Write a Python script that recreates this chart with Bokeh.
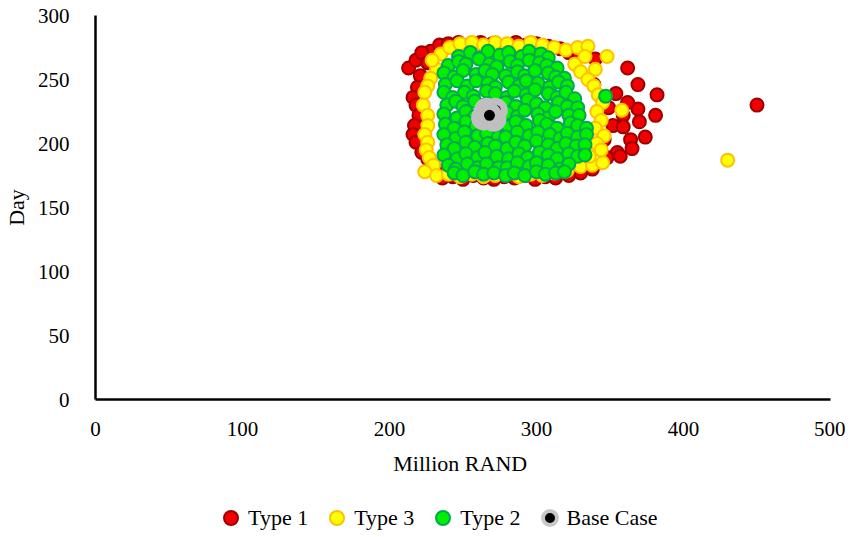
from bokeh.plotting import figure
from bokeh.layouts import column
from bokeh.models import Range1d, FixedTicker, Legend, LegendItem
from bokeh.embed import file_html
from bokeh.resources import INLINE

# ---------------- data ----------------
x_ticks = [0, 100, 200, 300, 400, 500]
y_ticks = [0, 50, 100, 150, 200, 250, 300]

type1_x = [228, 234, 240, 247, 254, 262, 270, 278, 286, 293, 300, 308, 316, 322,
           213, 218, 222, 226, 221, 219, 216, 218, 220, 217, 216, 218, 222, 226, 230, 233, 236,
           243, 250, 257, 264, 271, 278, 285, 292, 299, 306, 313,
           329, 340, 362, 369, 382, 354, 339, 349, 359, 369, 381, 362, 370, 352, 359, 374, 364,
           346, 365, 355, 357, 348, 338, 330, 322,
           450]
type1_y = [272, 277, 278, 279, 277, 279, 278, 276, 279, 277, 278, 276, 274, 271,
           259, 265, 271, 263, 253, 244, 236, 230, 222, 214, 207, 201, 193, 188, 183, 177, 173,
           174, 172, 175, 173, 172, 174, 173, 175, 172, 174, 173,
           268, 266, 259, 246, 238, 239, 246, 228, 222, 227, 222, 232, 217, 214, 213, 205, 203,
           203, 196, 193, 190, 189, 180, 177, 175,
           230]

type3_x = [235, 241, 248, 256, 264, 272, 280, 288, 296, 304, 312, 320, 328, 335, 348,
           232, 229, 228, 226, 224, 223, 226, 226, 224, 226, 225, 227, 230, 224,
           232, 240, 248, 256, 264, 272, 280, 288, 296, 304, 312, 321, 330, 338, 345,
           326, 333, 340, 330, 335, 339, 342, 345, 341, 344, 340, 346, 341, 344, 336, 358,
           430]
type3_y = [270, 275, 278, 279, 277, 279, 278, 276, 279, 277, 275, 273, 275, 276, 268,
           258, 265, 251, 245, 240, 230, 222, 214, 207, 201, 195, 189, 183, 178,
           175, 176, 174, 176, 174, 175, 176, 174, 176, 175, 177, 179, 182, 183, 185,
           262, 268, 258, 256, 250, 245, 238, 232, 225, 218, 212, 206, 200, 195, 190, 226,
           187]

type2_x = [247, 255, 261, 267, 275, 281, 290, 295, 303, 308,
           240, 247, 252, 261, 268, 273, 282, 287, 295, 302, 307, 314,
           237, 244, 250, 259, 265, 270, 279, 287, 292, 299, 308, 313, 319,
           238, 246, 253, 259, 267, 272, 281, 288, 293, 301, 309, 315, 321,
           237, 243, 251, 257, 266, 272, 280, 285, 293, 299, 308, 314, 320, 326,
           239, 245, 250, 258, 265, 274, 279, 286, 294, 300, 306, 315, 321, 328,
           237, 246, 252, 258, 280, 287, 292, 301, 308, 313, 322, 329,
           238, 244, 252, 259, 264, 272, 281, 286, 293, 302, 307, 314, 323, 328, 334,
           237, 245, 251, 260, 266, 274, 279, 287, 295, 301, 309, 316, 321, 328, 334,
           239, 244, 252, 258, 267, 272, 280, 286, 292, 300, 308, 314, 320, 327, 333,
           237, 246, 252, 260, 265, 273, 281, 288, 294, 302, 308, 314, 322, 328, 333,
           240, 245, 253, 260, 266, 274, 280, 287, 295, 300, 308, 316, 322,
           244, 250, 258, 264, 271, 279, 285, 292, 300, 306, 313, 319,
           347]
type2_y = [268, 271, 267, 272, 269, 271, 268, 272, 270, 267,
           261, 264, 262, 266, 262, 260, 264, 261, 265, 263, 261, 259,
           255, 252, 257, 254, 257, 254, 253, 256, 253, 257, 255, 252, 251,
           246, 249, 245, 249, 247, 244, 248, 245, 249, 247, 244, 248, 245,
           240, 236, 240, 237, 241, 239, 236, 241, 238, 242, 239, 236, 240, 235,
           230, 233, 229, 233, 230, 229, 232, 229, 234, 231, 228, 232, 229, 228,
           223, 220, 225, 221, 224, 221, 226, 223, 220, 225, 222, 222,
           215, 212, 217, 214, 216, 213, 213, 217, 214, 218, 215, 212, 216, 214, 212,
           207, 204, 209, 206, 208, 205, 205, 209, 206, 209, 207, 204, 208, 205, 207,
           199, 196, 201, 197, 200, 198, 196, 201, 198, 202, 199, 196, 200, 198, 199,
           191, 188, 192, 189, 193, 190, 188, 192, 189, 193, 191, 188, 192, 190, 191,
           183, 180, 184, 181, 184, 181, 181, 185, 182, 185, 183, 180, 184,
           177, 175, 178, 176, 177, 175, 177, 175, 178, 176, 177, 178,
           237]

base_x = [266, 271, 264, 272, 268]
base_y = [226, 219, 220, 226, 222]

series_labels = ["Type 1", "Type 3", "Type 2", "Base Case"]

# ---------------- styles ----------------
FONT = "Liberation Serif"
STY1 = dict(size=13, fill_color="#F00000", line_color="#9E0000", line_width=2)
STY3 = dict(size=13, fill_color="#FFFF00", line_color="#FFC000", line_width=2)
STY2 = dict(size=13, fill_color="#00F000", line_color="#00A850", line_width=2)
STYB = dict(size=18, fill_color="black", line_color="#BFBFBF", line_width=7)
STYB_LEG = dict(size=18, fill_color="black", line_color="#C8C8C8", line_width=4)

# ---------------- main figure ----------------
p = figure(frame_width=735, frame_height=384,
           min_border_left=87, min_border_right=15, min_border_top=15, min_border_bottom=84,
           x_range=Range1d(0, 500), y_range=Range1d(0, 300),
           output_backend="svg", toolbar_location=None, tools="")
p.xgrid.visible = False
p.ygrid.visible = False
p.outline_line_color = None
p.background_fill_color = "white"
p.border_fill_color = "white"

p.xaxis.ticker = FixedTicker(ticks=x_ticks)
p.yaxis.ticker = FixedTicker(ticks=y_ticks)
p.xaxis.axis_label = "Million  RAND"
p.yaxis.axis_label = "Day"

for ax in (p.xaxis[0], p.yaxis[0]):
    ax.axis_line_color = "black"
    ax.axis_line_width = 2.5
    ax.major_tick_line_color = None
    ax.minor_tick_line_color = None
    ax.major_label_text_font = FONT
    ax.major_label_text_font_size = "21px"
    ax.major_label_text_color = "black"
    ax.axis_label_text_font = FONT
    ax.axis_label_text_font_size = "22px"
    ax.axis_label_text_font_style = "normal"
    ax.axis_label_text_color = "black"

p.xaxis.major_label_standoff = 16
p.xaxis.axis_label_standoff = 12
p.yaxis.major_label_standoff = 20
p.yaxis.axis_label_standoff = 6

p.scatter(type1_x, type1_y, **STY1)
p.scatter(type3_x, type3_y, **STY3)
p.scatter(type2_x, type2_y, **STY2)
for bx, by in zip(base_x, base_y):
    p.scatter([bx], [by], **STYB)

# ---------------- legend strip (separate figure below) ----------------
# Same series are plotted again here, but the ranges keep every point out of
# view, so only the legend swatches appear in this strip.
q = figure(width=837, height=52, min_border=0,
           x_axis_type=None, y_axis_type=None,
           x_range=Range1d(0, 1), y_range=Range1d(0, 1),
           output_backend="svg", toolbar_location=None, tools="")
q.xgrid.visible = False
q.ygrid.visible = False
q.outline_line_color = None
q.background_fill_color = "white"
q.border_fill_color = "white"

l1 = q.scatter(type1_x, type1_y, **STY1)
l3 = q.scatter(type3_x, type3_y, **STY3)
l2 = q.scatter(type2_x, type2_y, **STY2)
lb = q.scatter(base_x, base_y, **STYB_LEG)

items = [
    LegendItem(label=series_labels[0], renderers=[l1]),
    LegendItem(label=series_labels[1], renderers=[l3]),
    LegendItem(label=series_labels[2], renderers=[l2]),
    LegendItem(label=series_labels[3], renderers=[lb]),
]
legend = Legend(items=items, orientation="horizontal", location=(118, 0),
                glyph_width=35, glyph_height=35, label_standoff=-7, spacing=11,
                padding=0, margin=0, border_line_color=None, background_fill_alpha=0,
                label_text_font=FONT, label_text_font_size="22px", label_text_color="black")
q.add_layout(legend, "center")

layout = column(p, q, spacing=0)
open("out.html", "w").write(file_html(layout, INLINE))
